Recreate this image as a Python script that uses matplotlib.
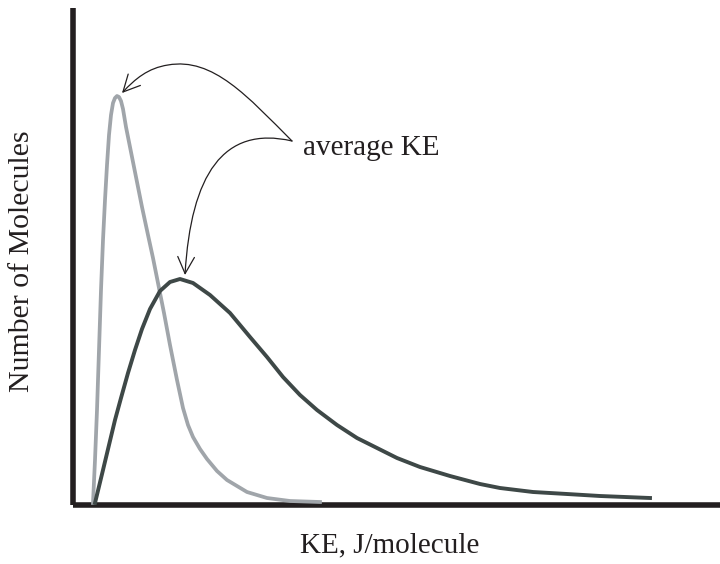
import matplotlib.pyplot as plt
from matplotlib.path import Path
from matplotlib.patches import FancyArrowPatch

# curve values (arbitrary KE units / molecule counts)
light_ke = [20, 22, 24, 26, 28, 30, 32, 34, 36, 38, 40, 42, 44, 46, 48, 50, 53, 57, 63, 69,
            75, 80, 85, 91, 97, 104, 110, 115, 120, 127, 134, 144, 154, 174, 194, 217, 247]
light_n = [2, 45, 95, 155, 215, 265, 305, 340, 370, 390, 402, 407, 409, 408, 404, 396, 378, 358, 328, 298,
           270, 247, 222, 192, 160, 125, 97, 80, 68, 56, 46, 34, 25, 13, 7, 4, 3]

dark_ke = [22, 30, 36, 42, 48, 55, 62, 69, 77, 87, 97, 107, 120, 137, 157, 177, 194, 210, 227, 244,
           264, 284, 304, 324, 347, 377, 407, 427, 460, 494, 527, 577]
dark_n = [2, 35, 60, 85, 107, 132, 155, 176, 196, 214, 223, 226, 222, 210, 192, 168, 148, 128, 110, 95,
          80, 67, 57, 47, 38, 29, 21, 17, 13, 11, 9, 7]

label_text = "average KE"
label_pos = (219, 364)

ink = "#231f20"
serif = "Liberation Serif"

fig = plt.figure(figsize=(7.2, 5.64), dpi=100)
ax = fig.add_axes([73 / 720, 59 / 564, 647 / 720, 497 / 564])

ax.plot(light_ke, light_n, color="#a0a5aa", lw=2.7, solid_joinstyle="round", zorder=3)
ax.plot(dark_ke, dark_n, color="#3e4847", lw=2.8, solid_joinstyle="round", zorder=3)

ax.set_xlim(0, 647)
ax.set_ylim(0, 497)
ax.set_xticks([])
ax.set_yticks([])
for side in ["top", "right"]:
    ax.spines[side].set_visible(False)
for side in ["left", "bottom"]:
    ax.spines[side].set_linewidth(4)
    ax.spines[side].set_color(ink)
    ax.spines[side].set_capstyle("butt")

# arrows from the label to each peak
i1 = light_n.index(max(light_n))
i2 = dark_n.index(max(dark_n))
tip1 = (light_ke[i1] + 5, light_n[i1] + 3)
tip2 = (dark_ke[i2] + 5, dark_n[i2] + 4)

p1 = Path([label_pos, (175, 408), (140, 448), (95, 440), (75, 437), (62, 426), tip1],
          [Path.MOVETO, Path.CURVE4, Path.CURVE4, Path.CURVE4, Path.CURVE4, Path.CURVE4, Path.CURVE4])
p2 = Path([label_pos, (150, 380), (118, 330), tip2],
          [Path.MOVETO, Path.CURVE4, Path.CURVE4, Path.CURVE4])
for p in (p1, p2):
    ax.add_patch(FancyArrowPatch(path=p, arrowstyle="->,head_length=0.8,head_width=0.4",
                                 mutation_scale=15, lw=0.9, color=ink, zorder=4))

ax.text(label_pos[0] + 11, 350, label_text, fontsize=21, family=serif,
        color=ink, va="baseline", ha="left")

fig.text(22 / 720, 1 - 261 / 564, "Number of Molecules", rotation=90, fontsize=21.5,
         family=serif, color=ink, ha="center", va="center")
fig.text(390 / 720, 1 - 552 / 564, "KE, J/molecule", fontsize=21, family=serif,
         color=ink, ha="center", va="baseline")

fig.savefig("out.png", dpi=100)
